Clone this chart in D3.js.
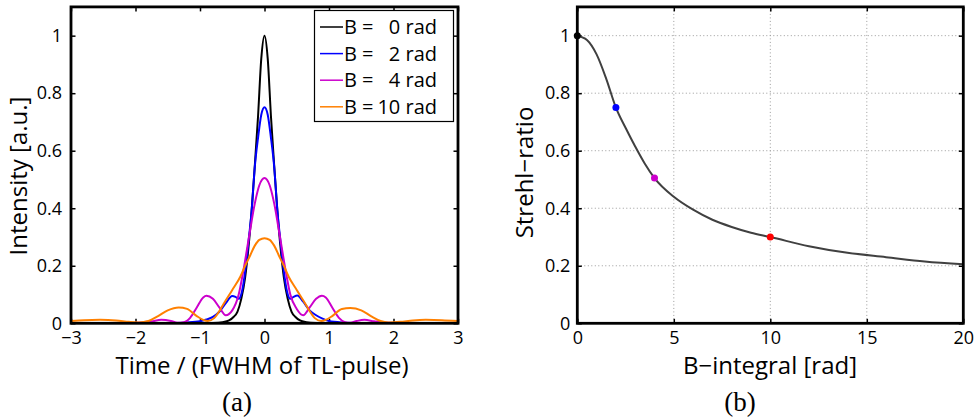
<!DOCTYPE html>
<html>
<head>
<meta charset="utf-8">
<script src="https://cdn.jsdelivr.net/npm/d3@7"></script>
<style>
  body { margin: 0; background: #fff; }
  svg text { font-family: "Open Sans", "DejaVu Sans", sans-serif; fill: #000; }
</style>
</head>
<body>
<div id="chart"></div>
<script>
// ---- data ----
// panel (a): pulse intensity vs time (units: FWHM of TL-pulse)
var blackT = [-3, -1.5, -1, -0.8, -0.65, -0.55, -0.48, -0.42, -0.36, -0.3, -0.25, -0.2, -0.155, -0.1, -0.05, 0,
              0.05, 0.1, 0.155, 0.2, 0.25, 0.3, 0.36, 0.42, 0.48, 0.55, 0.65, 0.8, 1, 1.5, 3];
var blackV = [0, 0, 0, 0.001, 0.004, 0.01, 0.022, 0.04, 0.085, 0.16, 0.26, 0.39, 0.533, 0.72, 0.92, 1,
              0.92, 0.72, 0.533, 0.39, 0.26, 0.16, 0.085, 0.04, 0.022, 0.01, 0.004, 0.001, 0, 0, 0];

var blueT = [-3, -2, -1.5, -1.2, -1, -0.9, -0.8, -0.7, -0.6, -0.5, -0.45, -0.4, -0.35, -0.3, -0.25, -0.2, -0.15, -0.1, -0.05, 0,
             0.05, 0.1, 0.15, 0.2, 0.25, 0.3, 0.35, 0.4, 0.45, 0.51, 0.6, 0.7, 0.8, 0.9, 1, 1.2, 1.5, 2, 3];
var blueV = [0, 0, 0.001, 0.003, 0.007, 0.013, 0.022, 0.04, 0.07, 0.095, 0.092, 0.085, 0.11, 0.18, 0.28, 0.39, 0.545, 0.645, 0.725, 0.751,
             0.725, 0.645, 0.545, 0.39, 0.28, 0.18, 0.11, 0.085, 0.092, 0.097, 0.075, 0.045, 0.028, 0.016, 0.008, 0.003, 0.001, 0, 0];

var magentaT = [-3, -2.2, -1.9, -1.75, -1.6, -1.45, -1.35, -1.25, -1.15, -1.05, -0.95, -0.9, -0.8, -0.7, -0.6, -0.5, -0.4, -0.33, -0.24, -0.15, -0.08, 0,
                0.08, 0.15, 0.24, 0.33, 0.4, 0.5, 0.6, 0.7, 0.8, 0.89, 0.95, 1.05, 1.15, 1.25, 1.33, 1.43, 1.55, 1.7, 1.85, 2.2, 3];
var magentaV = [0.001, 0.001, 0.003, 0.007, 0.012, 0.008, 0.002, 0.004, 0.02, 0.055, 0.09, 0.096, 0.085, 0.055, 0.028, 0.045, 0.1, 0.18, 0.3, 0.417, 0.48, 0.505,
                0.48, 0.417, 0.3, 0.18, 0.1, 0.05, 0.028, 0.055, 0.085, 0.096, 0.09, 0.055, 0.02, 0.004, 0.002, 0.008, 0.012, 0.007, 0.003, 0.001, 0.001];

var orangeT = [-3, -2.8, -2.55, -2.3, -2.1, -1.95, -1.8, -1.65, -1.5, -1.33, -1.2, -1.05, -0.95, -0.88, -0.78, -0.68, -0.6, -0.5, -0.375, -0.3, -0.23, -0.15, -0.08, 0,
               0.08, 0.15, 0.23, 0.3, 0.375, 0.5, 0.6, 0.68, 0.78, 0.88, 0.95, 1.05, 1.2, 1.33, 1.5, 1.65, 1.8, 1.92, 2.1, 2.3, 2.5, 2.75, 3];
var orangeV = [0.008, 0.011, 0.012, 0.01, 0.005, 0.003, 0.008, 0.025, 0.045, 0.055, 0.05, 0.025, 0.012, 0.008, 0.018, 0.05, 0.08, 0.116, 0.162, 0.2, 0.232, 0.27, 0.29, 0.296,
               0.29, 0.27, 0.232, 0.2, 0.162, 0.116, 0.08, 0.05, 0.018, 0.008, 0.012, 0.025, 0.05, 0.053, 0.045, 0.025, 0.008, 0.003, 0.005, 0.01, 0.012, 0.011, 0.008];

var legendLabels = ["0", "2", "4", "10"];
var seriesColors = ["#000000", "#0000ff", "#cc00cc", "#ff8000"];

// panel (b): Strehl ratio vs B-integral
var strehlB = [0, 0.5, 1, 1.5, 2, 2.5, 3, 3.5, 4, 5, 6, 7, 8, 9, 10, 12, 14, 16, 18, 20];
var strehlV = [1, 0.985, 0.935, 0.85, 0.75, 0.68, 0.615, 0.555, 0.505, 0.44, 0.395, 0.36, 0.335, 0.315, 0.30, 0.268, 0.245, 0.23, 0.215, 0.205];
var markB = [0, 2, 4, 10];
var markV = [1, 0.75, 0.505, 0.30];
var markColors = ["#000000", "#0000ff", "#cc00cc", "#ff0000"];

var yTicks = [0, 0.2, 0.4, 0.6, 0.8, 1];
var xTicksA = [-3, -2, -1, 0, 1, 2, 3];
var xTicksB = [0, 5, 10, 15, 20];

// ---- layout ----
var W = 975, H = 419;
var plotTop = 6.9, plotBottom = 323.3;
var serif = "'Liberation Serif', 'DejaVu Serif', serif";
var svg = d3.select("#chart").append("svg")
    .attr("width", W).attr("height", H);

var fmt = d3.format("~g");

function drawFrame(g, x, y, xTicks, yPad, grid) {
    var x0 = x.range()[0], x1 = x.range()[1];
    if (grid) {
        var gg = g.append("g").attr("stroke", "#9a9a9a").attr("stroke-width", 1)
            .attr("stroke-dasharray", "1,2.5");
        gg.selectAll(".gx").data(xTicks.slice(1, -1)).enter().append("line")
            .attr("x1", d => x(d)).attr("x2", d => x(d))
            .attr("y1", plotTop).attr("y2", plotBottom);
        gg.selectAll(".gy").data(yTicks.slice(1)).enter().append("line")
            .attr("x1", x0).attr("x2", x1)
            .attr("y1", d => y(d)).attr("y2", d => y(d));
    }
    // axes with inward ticks on all four sides
    var ax = g.append("g").attr("class", "axes");
    ax.append("g").attr("transform", "translate(0," + plotBottom + ")")
        .call(d3.axisBottom(x).tickValues(xTicks).tickSize(-4.5).tickSizeOuter(0).tickPadding(8).tickFormat(fmt));
    ax.append("g").attr("transform", "translate(0," + plotTop + ")")
        .call(d3.axisTop(x).tickValues(xTicks).tickSize(-4.5).tickSizeOuter(0).tickFormat(""));
    ax.append("g").attr("transform", "translate(" + x0 + ",0)")
        .call(d3.axisLeft(y).tickValues(yTicks).tickSize(-4.5).tickSizeOuter(0).tickPadding(yPad).tickFormat(fmt));
    ax.append("g").attr("transform", "translate(" + x1 + ",0)")
        .call(d3.axisRight(y).tickValues(yTicks).tickSize(-4.5).tickSizeOuter(0).tickFormat(""));
    ax.selectAll(".domain").remove();
    ax.selectAll(".tick text").filter(function () { return this.textContent === ""; }).remove();
    ax.selectAll(".tick line").attr("stroke", "#000").attr("stroke-width", 1.5);
    ax.selectAll(".tick text").attr("font-size", 18).attr("fill", "#000");
}

function drawBox(g, x) {
    g.append("rect")
        .attr("x", x.range()[0]).attr("y", plotTop)
        .attr("width", x.range()[1] - x.range()[0]).attr("height", plotBottom - plotTop)
        .attr("fill", "none").attr("stroke", "#000").attr("stroke-width", 2.8);
}

// ---- panel (a) ----
var xa = d3.scaleLinear().domain([-3, 3]).range([71, 458]);
var ya = d3.scaleLinear().domain([0, 1.1]).range([plotBottom, plotTop]);
var ga = svg.append("g");

svg.append("clipPath").attr("id", "clipA").append("rect")
    .attr("x", 71).attr("y", plotTop).attr("width", 458 - 71).attr("height", plotBottom - plotTop);

drawFrame(ga, xa, ya, xTicksA, 9, false);

var lineA = d3.line().x(d => xa(d[0])).y(d => ya(d[1])).curve(d3.curveMonotoneX);
var seriesA = [
    d3.zip(blackT, blackV),
    d3.zip(blueT, blueV),
    d3.zip(magentaT, magentaV),
    d3.zip(orangeT, orangeV)
];
var curves = ga.append("g").attr("clip-path", "url(#clipA)");
seriesA.forEach(function (s, i) {
    curves.append("path").datum(s)
        .attr("d", lineA)
        .attr("fill", "none")
        .attr("stroke", seriesColors[i])
        .attr("stroke-width", 2);
});
drawBox(ga, xa);

// legend
var leg = ga.append("g");
leg.append("rect").attr("x", 314.5).attr("y", 10.5).attr("width", 139).attr("height", 111)
    .attr("fill", "#fff").attr("stroke", "#000").attr("stroke-width", 1.2);
legendLabels.forEach(function (lab, i) {
    var yy = 27 + i * 26.6;
    leg.append("line").attr("x1", 320).attr("x2", 343).attr("y1", yy).attr("y2", yy)
        .attr("stroke", seriesColors[i]).attr("stroke-width", 1.5);
    leg.append("text").attr("x", 344).attr("y", yy).attr("dy", "0.36em")
        .attr("font-size", 20).text("B =");
    leg.append("text").attr("x", 437).attr("y", yy).attr("dy", "0.36em")
        .attr("font-size", 20).attr("text-anchor", "end").text(lab + " rad");
});

ga.append("text").attr("x", 262).attr("y", 374).attr("text-anchor", "middle")
    .attr("font-size", 24).text("Time / (FWHM of TL-pulse)");
ga.append("text").attr("transform", "translate(27,176) rotate(-90)")
    .attr("text-anchor", "middle").attr("font-size", 24).text("Intensity [a.u.]");
ga.append("text").attr("x", 237).attr("y", 411).attr("text-anchor", "middle")
    .attr("font-size", 27).style("font-family", serif).text("(a)");

// ---- panel (b) ----
var xb = d3.scaleLinear().domain([0, 20]).range([577.3, 963.3]);
var yb = d3.scaleLinear().domain([0, 1.1]).range([plotBottom, plotTop]);
var gb = svg.append("g");

drawFrame(gb, xb, yb, xTicksB, 7, true);

var lineB = d3.line().x(d => xb(d[0])).y(d => yb(d[1])).curve(d3.curveMonotoneX);
gb.append("path").datum(d3.zip(strehlB, strehlV))
    .attr("d", lineB)
    .attr("fill", "none")
    .attr("stroke", "#404040")
    .attr("stroke-width", 2);
drawBox(gb, xb);

gb.selectAll(".mark").data(d3.zip(markB, markV, markColors)).enter().append("circle")
    .attr("cx", d => xb(d[0])).attr("cy", d => yb(d[1]))
    .attr("r", 3.5)
    .attr("fill", d => d[2]);

gb.append("text").attr("x", 770).attr("y", 374).attr("text-anchor", "middle")
    .attr("font-size", 24).text("B\u2212integral [rad]");
gb.append("text").attr("transform", "translate(533,172.5) rotate(-90)")
    .attr("text-anchor", "middle").attr("font-size", 24).text("Strehl\u2212ratio");
gb.append("text").attr("x", 740).attr("y", 411).attr("text-anchor", "middle")
    .attr("font-size", 27).style("font-family", serif).text("(b)");
</script>
</body>
</html>
